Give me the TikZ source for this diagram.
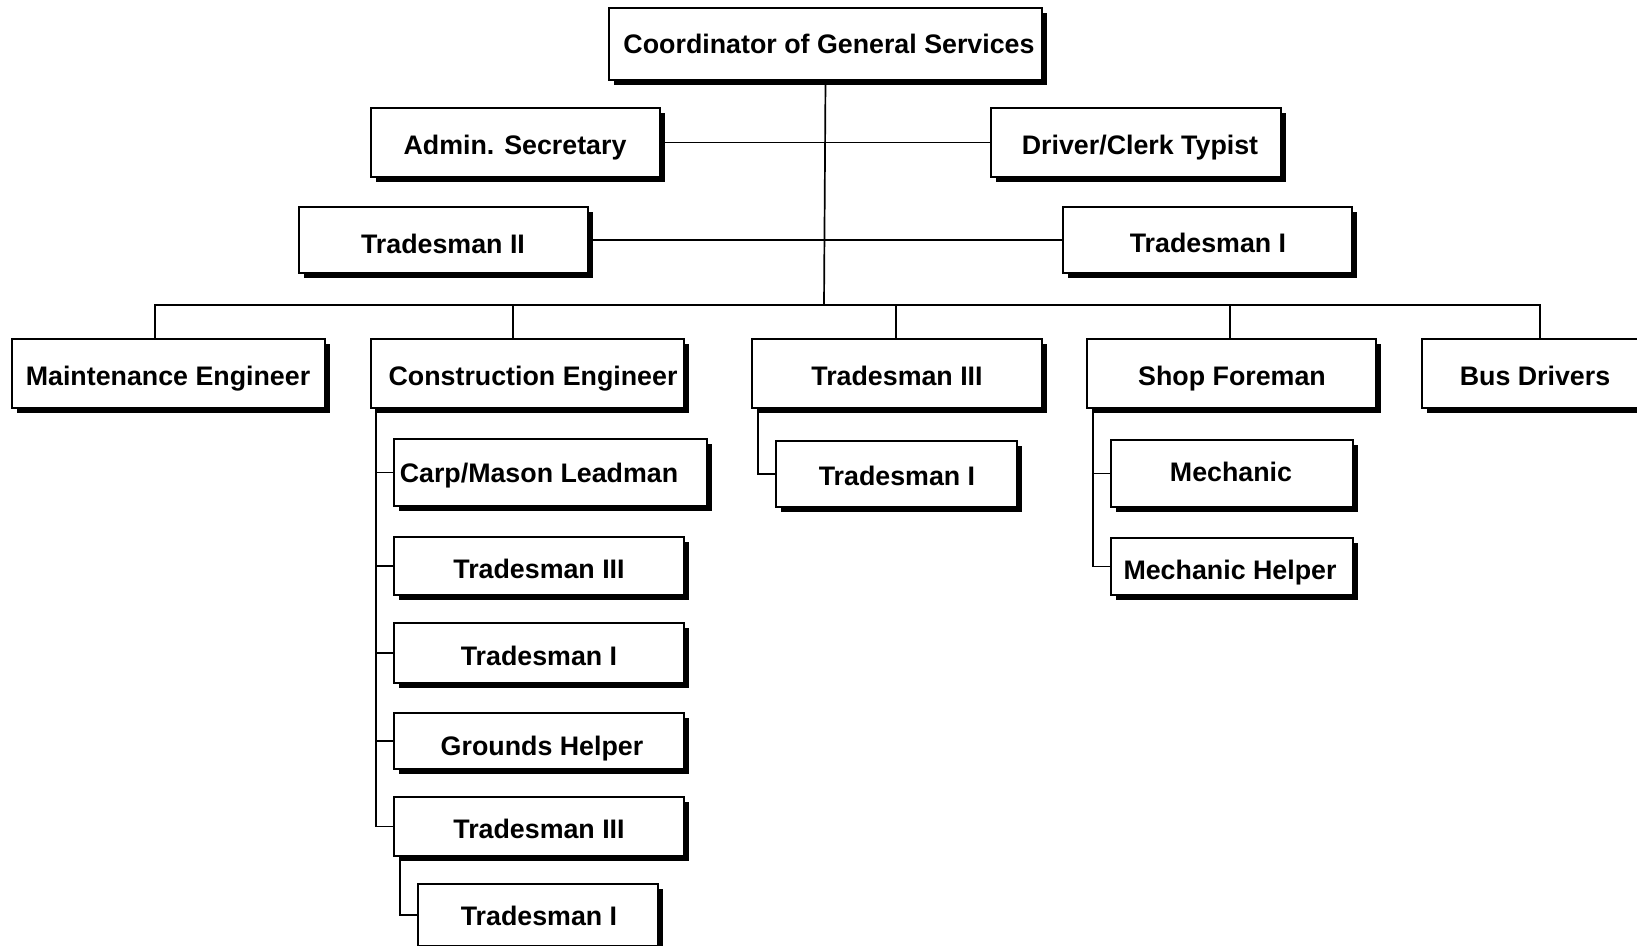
\documentclass[tikz,border=0pt]{standalone}
\usepackage{fontspec}
\setmainfont{Liberation Sans}
\usetikzlibrary{shadows}
\tikzset{
  obox/.style={draw=black, line width=1.6pt, fill=white, rectangle, inner sep=0pt, outer sep=0pt,
    drop shadow={shadow xshift=4.5pt, shadow yshift=-4.5pt, fill=black, opacity=1}},
  lbl/.style={font=\fontsize{26.8}{30}\selectfont\bfseries, inner sep=0pt, anchor=base},
  conn/.style={line width=1.7pt, black},
}
\newcommand\ocbox[8]{%
  \node[obox, minimum width={#4-#2}, minimum height={#5-#3}] (#1) at ({(#2+#4)/2},{(#3+#5)/2}) {};
  \node[lbl] (#1t) at (#6,{#7+9.5}) {#8};
}
\begin{document}
\begin{tikzpicture}[x=1pt,y=-1pt]
\useasboundingbox (0,0) rectangle (1637,945);
\fill[white] (0,0) rectangle (1637,945);
\clip (0,0) rectangle (1637,945);
\coordinate (hub) at (824,305);
\ocbox{coord}{609}{8}{1042}{80}{829}{44}{Coordinator of General Services}
\ocbox{admin}{371}{108}{660}{177}{515}{145}{Admin. Secretary}
\ocbox{driver}{991}{108}{1281}{177}{1140}{145}{Driver/Clerk Typist}
\ocbox{ttwo}{299}{207}{588}{273}{443}{243.5}{Tradesman II}
\ocbox{tone}{1063}{207}{1352}{273}{1208}{243}{Tradesman I}
\ocbox{maint}{12}{339}{325}{408}{168}{376}{Maintenance Engineer}
\ocbox{cons}{371}{339}{684}{408}{533}{376}{Construction Engineer}
\ocbox{tthree}{752}{339}{1042}{408}{897}{376}{Tradesman III}
\ocbox{shop}{1087}{339}{1376}{408}{1232}{376}{Shop Foreman}
\ocbox{busd}{1422}{339}{1650}{408}{1535}{376}{Bus Drivers}
\ocbox{ca}{394}{439}{707}{506}{539}{473}{Carp/Mason Leadman}
\ocbox{cb}{394}{537}{684}{595}{539}{569}{Tradesman III}
\ocbox{cc}{394}{623}{684}{683}{539}{656}{Tradesman I}
\ocbox{cd}{394}{713}{684}{769}{542}{746}{Grounds Helper}
\ocbox{ce}{394}{797}{684}{856}{539}{829}{Tradesman III}
\ocbox{cf}{418}{884}{658}{946}{539}{916}{Tradesman I}
\ocbox{tonem}{776}{441}{1017}{507}{897}{476}{Tradesman I}
\ocbox{mech}{1111}{440}{1353}{507}{1231}{472}{Mechanic}
\ocbox{mhelp}{1111}{538}{1353}{595}{1230}{570}{Mechanic Helper}
% connectors
\draw[conn] (coord.south) -- (hub);
\draw[conn] (admin.east) -- (driver.west);
\draw[conn] (ttwo.east) -- (tone.west);
\draw[conn] ([xshift=-13.5pt]maint.north) |- (hub) -| ([xshift=4pt]busd.north);
\draw[conn] ([xshift=-14.5pt]cons.north) |- (hub);
\draw[conn] ([xshift=-1pt]tthree.north) |- (hub);
\draw[conn] ([xshift=-1.5pt]shop.north) |- (hub);
\draw[conn] ([xshift=5pt,yshift=-0.8pt]cons.south west) |- (ce.west);
\draw[conn] (ca.west) -- ++(-18,0);
\draw[conn] (cb.west) -- ++(-18,0);
\draw[conn] (cc.west) -- ++(-18,0);
\draw[conn] (cd.west) -- ++(-18,0);
\draw[conn] ([xshift=6pt,yshift=-0.8pt]ce.south west) |- (cf.west);
\draw[conn] ([xshift=6pt,yshift=-0.8pt]tthree.south west) |- (tonem.west);
\draw[conn] ([xshift=6pt,yshift=-0.8pt]shop.south west) |- (mhelp.west);
\draw[conn] (mech.west) -- ++(-18,0);
\end{tikzpicture}
\end{document}
